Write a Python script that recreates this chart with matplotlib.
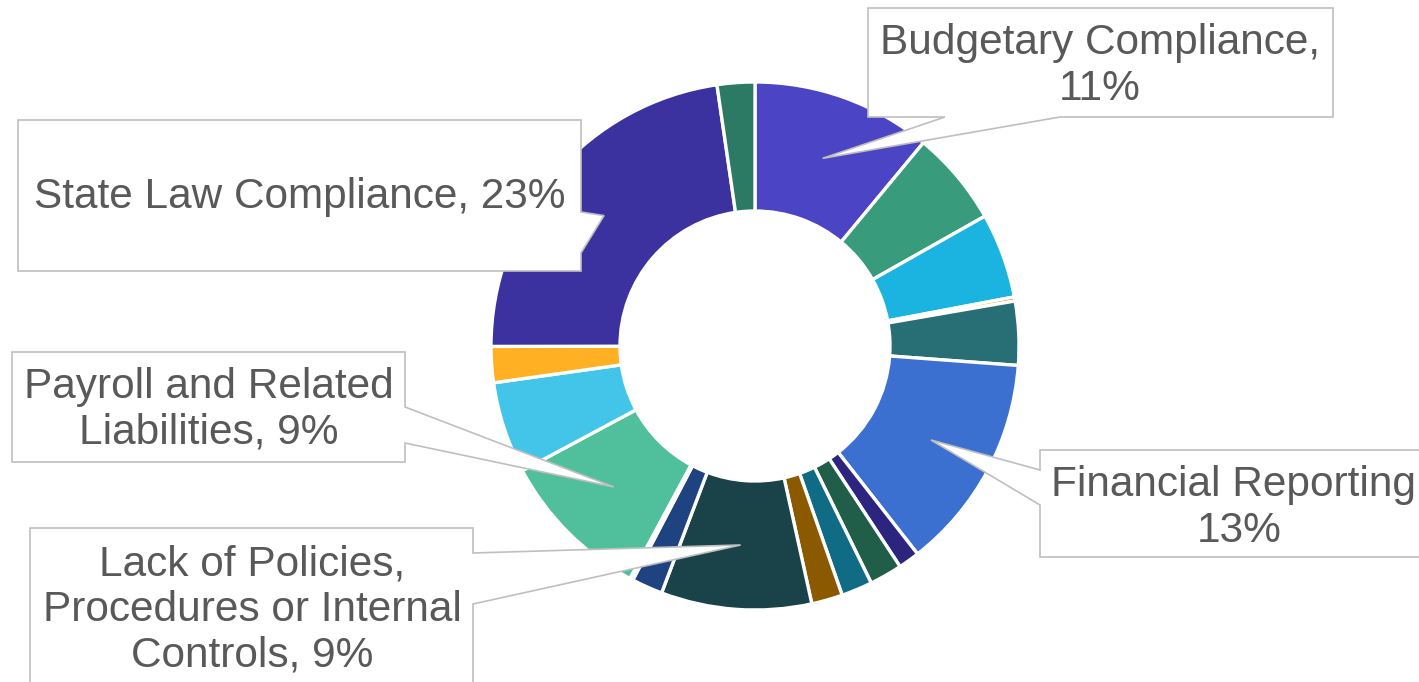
import numpy as np
import matplotlib
matplotlib.use("Agg")
import matplotlib.pyplot as plt
from matplotlib.patches import Polygon

# Share of findings by category, clockwise from 12 o'clock
categories = [
    "Budgetary Compliance", "Other A", "Other B", "Other C", "Other D",
    "Financial Reporting", "Other E", "Other F", "Other G", "Other H",
    "Lack of Policies, Procedures or Internal Controls", "Other I", "Other J",
    "Payroll and Related Liabilities", "Other K", "Other L",
    "State Law Compliance", "Other M",
]
shares = [11.0, 5.8, 5.2, 0.25, 3.9, 13.25, 1.3, 2.0, 1.9, 1.9,
          9.2, 1.9, 0.2, 9.3, 5.6, 2.2, 22.7, 2.3]
colors = ["#4B44C4", "#389B7C", "#1BB4E0", "#E8950A", "#276E75",
          "#3B6FD0", "#2B2580", "#205E4A", "#106C85", "#8B5A00",
          "#1A4349", "#1F4380", "#7B6BE0", "#4FBF9C", "#42C5E8",
          "#FFB023", "#3B32A0", "#2C7A64"]
label_text = {
    0: "Budgetary Compliance,\n11%",
    5: "Financial Reporting,\n13%",
    10: "Lack of Policies,\nProcedures or Internal\nControls, 9%",
    13: "Payroll and Related\nLiabilities, 9%",
    16: "State Law Compliance, 23%",
}

W, H = 1419, 682
fig = plt.figure(figsize=(W / 100, H / 100), dpi=100)
ax = fig.add_axes([0, 0, 1, 1])

cx, cy = 755, H - 346
R_OUT, R_IN = 264, 135
wedges, _ = ax.pie(shares, colors=colors, radius=R_OUT, center=(cx, cy),
                   startangle=90, counterclock=False,
                   wedgeprops=dict(width=R_OUT - R_IN, edgecolor="white",
                                   linewidth=2.4))
ax.set_xlim(0, W)
ax.set_ylim(0, H)
ax.set_aspect("equal")
ax.axis("off")


def tip_of(i):
    w = wedges[i]
    mid = np.radians((w.theta1 + w.theta2) / 2)
    r = (R_OUT + R_IN) / 2
    return (cx + r * np.cos(mid), cy + r * np.sin(mid))


def callout(i, box, side, a, b, text_xy):
    """Excel-style box with a triangular tail; box/a/b in top-down pixels."""
    x0, y0, x1, y1 = box
    tx, ty = tip_of(i)
    f = lambda x, y: (x, H - y)
    if side == "right":
        pts = [f(x0, y0), f(x1, y0), f(x1, a), (tx, ty), f(x1, b), f(x1, y1), f(x0, y1)]
    elif side == "left":
        pts = [f(x0, y0), f(x1, y0), f(x1, y1), f(x0, y1), f(x0, b), (tx, ty), f(x0, a)]
    else:  # bottom
        pts = [f(x0, y0), f(x1, y0), f(x1, y1), f(b, y1), (tx, ty), f(a, y1), f(x0, y1)]
    ax.add_patch(Polygon(pts, closed=True, facecolor="white", edgecolor="#BFBFBF",
                         lw=1.2, zorder=5, clip_on=False))
    ax.text(text_xy[0], H - text_xy[1], label_text[i], fontsize=30.5,
            family="Liberation Sans", color="#595959", ha="center", va="center",
            linespacing=1.18, zorder=6)


callout(0, (868, 8, 1333, 117), "bottom", 945, 1060, (1100, 66))
callout(5, (1040, 450, 1445, 557), "left", 470, 505, (1239, 508))
callout(10, (30, 528, 473, 700), "right", 553, 604, (252, 610))
callout(13, (12, 352, 405, 462), "right", 407, 443, (209, 410))
callout(16, (18, 120, 581, 271), "right", 212, 253, (300, 197))

fig.savefig("out.png", dpi=100)
